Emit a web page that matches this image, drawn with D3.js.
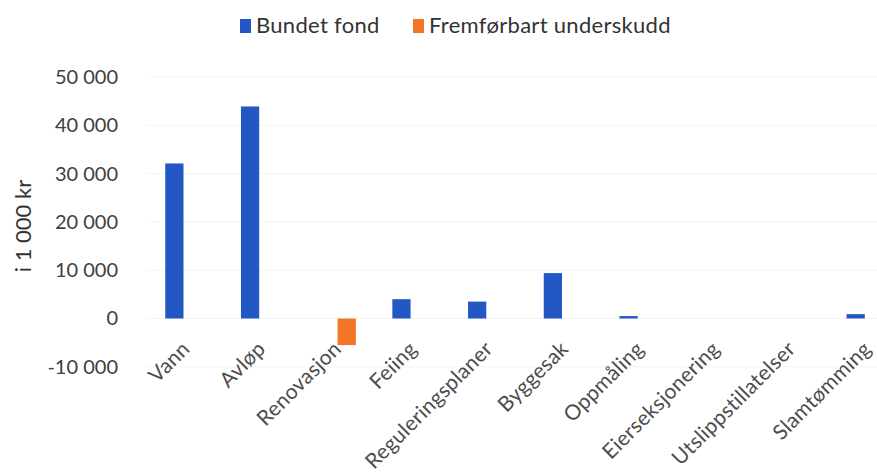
<!DOCTYPE html>
<html>
<head>
<meta charset="utf-8">
<script src="https://cdn.jsdelivr.net/npm/d3@7"></script>
<style>
  body { margin: 0; background: #fff; }
  text { font-family: Lato, 'Noto Sans', sans-serif; }
</style>
</head>
<body>
<div id="chart"></div>
<script>
let categories = ['Vann', 'Avløp', 'Renovasjon', 'Feiing', 'Reguleringsplaner', 'Byggesak',
  'Oppmåling', 'Eierseksjonering', 'Utslippstillatelser', 'Slamtømming']
let seriesNames = ['Bundet fond', 'Fremførbart underskudd']
let bundetFond = [32100, 43900, null, 4000, 3500, 9400, 500, 0, 0, 900]
let underskudd = [null, null, -5500, null, null, null, null, null, null, null]
let yTicks = [-10000, 0, 10000, 20000, 30000, 40000, 50000]
let colors = ['#2257c4', '#f37526']

let width = 877
let height = 472

let svg = d3
  .select('#chart')
  .append('svg')
  .attr('width', width)
  .attr('height', height)

let xPositionScale = d3
  .scaleBand()
  .domain(categories)
  .range([147, 904])

let bw = xPositionScale.bandwidth()
let xSub = d3
  .scaleBand()
  .domain(seriesNames)
  .range([bw / 2 - 19.6, bw / 2 + 19.6])
  .paddingInner(0.13)

let yPositionScale = d3
  .scaleLinear()
  .domain([0, 50000])
  .range([318.5, 77])

let fmt = d => d3.format(',')(d).replace(/,/g, ' ').replace('−', '-')

// gridlines
svg
  .selectAll('.grid')
  .data(yTicks)
  .enter()
  .append('line')
  .attr('class', 'grid')
  .attr('x1', 147)
  .attr('x2', 877)
  .attr('y1', d => yPositionScale(d))
  .attr('y2', d => yPositionScale(d))
  .attr('stroke', '#f4f4f4')
  .attr('stroke-width', 1)

// y axis labels
let yAxis = d3.axisLeft(yPositionScale).tickValues(yTicks).tickFormat(fmt).tickSize(0).tickPadding(0)
svg
  .append('g')
  .attr('class', 'axis y-axis')
  .attr('transform', 'translate(118,0)')
  .call(yAxis)
  .call(g => g.select('.domain').remove())
  .selectAll('text')
  .attr('font-size', 20)
  .attr('fill', '#404040')
  .attr('font-family', 'Lato, sans-serif')

svg
  .append('text')
  .attr('transform', 'translate(31,226) rotate(-90)')
  .attr('text-anchor', 'middle')
  .attr('font-size', 22)
  .attr('fill', '#333')
  .text('i 1 000 kr')

// bars
let rows = []
categories.forEach((c, i) => {
  rows.push({ cat: c, series: seriesNames[0], value: bundetFond[i] })
  rows.push({ cat: c, series: seriesNames[1], value: underskudd[i] })
})

svg
  .selectAll('.bar')
  .data(rows.filter(d => d.value !== null && d.value !== 0))
  .enter()
  .append('rect')
  .attr('class', 'bar')
  .attr('x', d => xPositionScale(d.cat) + xSub(d.series))
  .attr('width', xSub.bandwidth())
  .attr('y', d => yPositionScale(Math.max(0, d.value)))
  .attr('height', d => Math.max(1.5, Math.abs(yPositionScale(d.value) - yPositionScale(0))))
  .attr('fill', d => colors[seriesNames.indexOf(d.series)])

// category labels
let xAxis = d3.axisBottom(xPositionScale).tickSize(0).tickPadding(0)
svg
  .append('g')
  .attr('class', 'axis x-axis')
  .attr('transform', 'translate(0,345)')
  .call(xAxis)
  .call(g => g.select('.domain').remove())
  .selectAll('text')
  .attr('font-size', 21)
  .attr('letter-spacing', 0.3)
  .attr('fill', '#4d4d4d')
  .attr('font-family', 'Lato, sans-serif')
  .attr('text-anchor', 'end')
  .attr('dy', '0.35em')
  .attr('transform', 'translate(1,0) rotate(-45)')

// legend
let legend = svg
  .selectAll('.legend')
  .data(seriesNames)
  .enter()
  .append('g')
  .attr('class', 'legend')
  .attr('transform', (d, i) => 'translate(' + [240, 413][i] + ',0)')

legend
  .append('rect')
  .attr('x', 0)
  .attr('y', 19)
  .attr('width', 11)
  .attr('height', 14)
  .attr('fill', (d, i) => colors[i])

legend
  .append('text')
  .attr('x', 16)
  .attr('y', 33)
  .attr('font-size', 22)
  .attr('letter-spacing', 0.3)
  .attr('fill', '#333')
  .text(d => d)
</script>
</body>
</html>
